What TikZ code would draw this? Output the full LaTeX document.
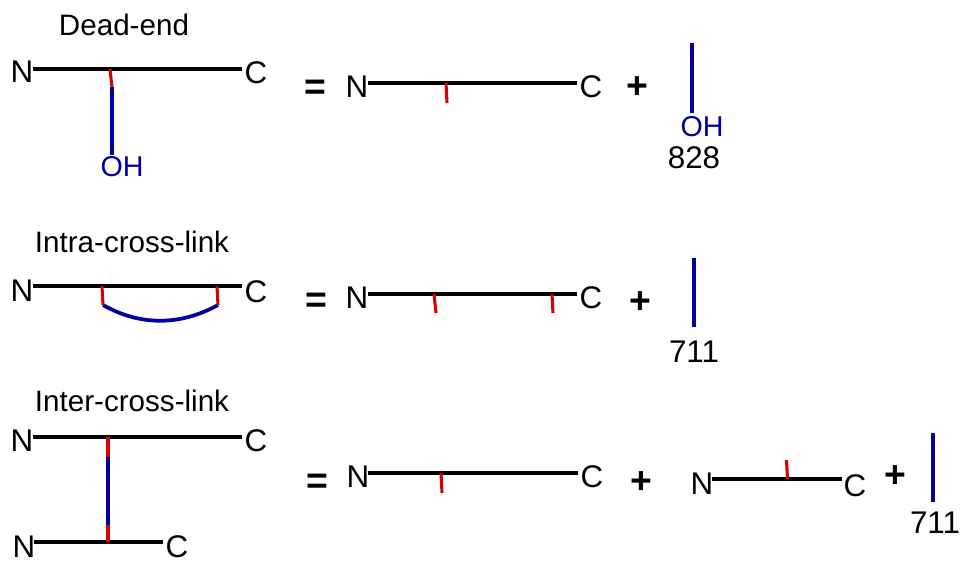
\documentclass[tikz,border=0pt]{standalone}
\usepackage{fontspec}
\setmainfont{Liberation Sans}
\definecolor{chain}{HTML}{000000}
\definecolor{linkblue}{HTML}{0000A0}
\definecolor{siteRed}{HTML}{D80000}
\begin{document}
\begin{tikzpicture}[x=0.75pt,y=-0.75pt,
  lbl/.style={inner sep=0pt,anchor=center,font=\fontsize{21.5}{25}\selectfont},
  titlelbl/.style={inner sep=0pt,anchor=center,font=\fontsize{22.2}{26}\selectfont},
  endlbl/.style={inner sep=0pt,anchor=center,font=\fontsize{23.5}{27}\selectfont},
  oplbl/.style={inner sep=0pt,anchor=center,font=\fontsize{28}{32}\selectfont\bfseries},
  bluelbl/.style={lbl,text=linkblue},
  chainline/.style={line width=3pt,draw=chain},
  tick/.style={line width=2.3pt,draw=siteRed},
  linker/.style={line width=2.8pt,draw=linkblue}]
\useasboundingbox (0,0) rectangle (965,563);

% ---------- Row 1: Dead-end ----------
\node[titlelbl] (t1) at (124,25) {Dead-end};
\node[endlbl] (n1) at (22,72) {N};
\node[endlbl] (c1) at (256,73) {C};
\coordinate (a1) at (33,69); \coordinate (b1) at (242,69);
\draw[chainline] (a1) -- (b1);
\coordinate (r1t) at (110,69); \coordinate (r1b) at (112,87); \coordinate (o1) at (112,155);
\draw[tick] (r1t) -- (r1b);
\draw[linker] (r1b) -- (o1);
\node[bluelbl] (oh1) at (122,167) {OH};

\node[oplbl] (eq1) at (315,90) {=};
\node[endlbl] (n1r) at (357,87) {N};
\node[endlbl] (c1r) at (591,87) {C};
\coordinate (a1r) at (368,83); \coordinate (b1r) at (577,83);
\draw[chainline] (a1r) -- (b1r);
\coordinate (r1rt) at (446,83); \coordinate (r1rb) at (447,103);
\draw[tick] (r1rt) -- (r1rb);
\node[oplbl] (p1) at (637,88) {+};
\coordinate (f1t) at (692,43); \coordinate (f1b) at (692,113);
\draw[linker] (f1t) -- (f1b);
\node[bluelbl] (oh1r) at (702,127) {OH};
\node[endlbl] (m1) at (694,158) {828};

% ---------- Row 2: Intra-cross-link ----------
\node[titlelbl] (t2) at (132,242) {Intra-cross-link};
\node[endlbl] (n2) at (22,291) {N};
\node[endlbl] (c2) at (256,292) {C};
\coordinate (a2) at (33,286); \coordinate (b2) at (242,286);
\draw[chainline] (a2) -- (b2);
\coordinate (r2at) at (102,286); \coordinate (r2ab) at (103,305);
\coordinate (r2bt) at (217,286); \coordinate (r2bb) at (218,305);
\draw[linker] (r2ab) .. controls (140,326) and (180,326) .. (r2bb);
\draw[tick] (r2at) -- (r2ab);
\draw[tick] (r2bt) -- (r2bb);

\node[oplbl] (eq2) at (316,303) {=};
\node[endlbl] (n2r) at (357,298) {N};
\node[endlbl] (c2r) at (591,298) {C};
\coordinate (a2r) at (368,294); \coordinate (b2r) at (577,294);
\draw[chainline] (a2r) -- (b2r);
\coordinate (r2rat) at (434,294); \coordinate (r2rab) at (436,313);
\coordinate (r2rbt) at (552,294); \coordinate (r2rbb) at (553,313);
\draw[tick] (r2rat) -- (r2rab);
\draw[tick] (r2rbt) -- (r2rbb);
\node[oplbl] (p2) at (640,303) {+};
\coordinate (f2t) at (694,258); \coordinate (f2b) at (694,327);
\draw[linker] (f2t) -- (f2b);
\node[endlbl] (m2) at (694,352) {711};

% ---------- Row 3: Inter-cross-link ----------
\node[titlelbl] (t3) at (132,401) {Inter-cross-link};
\node[endlbl] (n3) at (22,441) {N};
\node[endlbl] (c3) at (256,441) {C};
\coordinate (a3) at (33,437); \coordinate (b3) at (242,437);
\draw[chainline] (a3) -- (b3);
\node[endlbl] (n3b) at (24,547) {N};
\node[endlbl] (c3b) at (177,547) {C};
\coordinate (a3b) at (34,542); \coordinate (b3b) at (163,542);
\draw[chainline] (a3b) -- (b3b);
\coordinate (x3t) at (108,437); \coordinate (x3u) at (108,457);
\coordinate (x3l) at (108,525); \coordinate (x3b) at (108,542);
\draw[linker] (x3u) -- (x3l);
\draw[tick] (x3t) -- (x3u);
\draw[tick] (x3l) -- (x3b);

\node[oplbl] (eq3) at (317,484) {=};
\node[endlbl] (n3r) at (358,477) {N};
\node[endlbl] (c3r) at (592,477) {C};
\coordinate (a3r) at (368,473); \coordinate (b3r) at (578,473);
\draw[chainline] (a3r) -- (b3r);
\coordinate (r3rt) at (441,473); \coordinate (r3rb) at (442,493);
\draw[tick] (r3rt) -- (r3rb);
\node[oplbl] (p3) at (641,483) {+};
\node[endlbl] (n3s) at (702,484) {N};
\node[endlbl] (c3s) at (855,486) {C};
\coordinate (a3s) at (712,479); \coordinate (b3s) at (842,479);
\draw[chainline] (a3s) -- (b3s);
\coordinate (r3sb) at (787.5,479); \coordinate (r3st) at (786.5,460);
\draw[tick] (r3sb) -- (r3st);
\node[oplbl] (p4) at (895,477) {+};
\coordinate (f3t) at (933,433); \coordinate (f3b) at (933,502);
\draw[linker] (f3t) -- (f3b);
\node[endlbl] (m3) at (935,523) {711};
\end{tikzpicture}
\end{document}
